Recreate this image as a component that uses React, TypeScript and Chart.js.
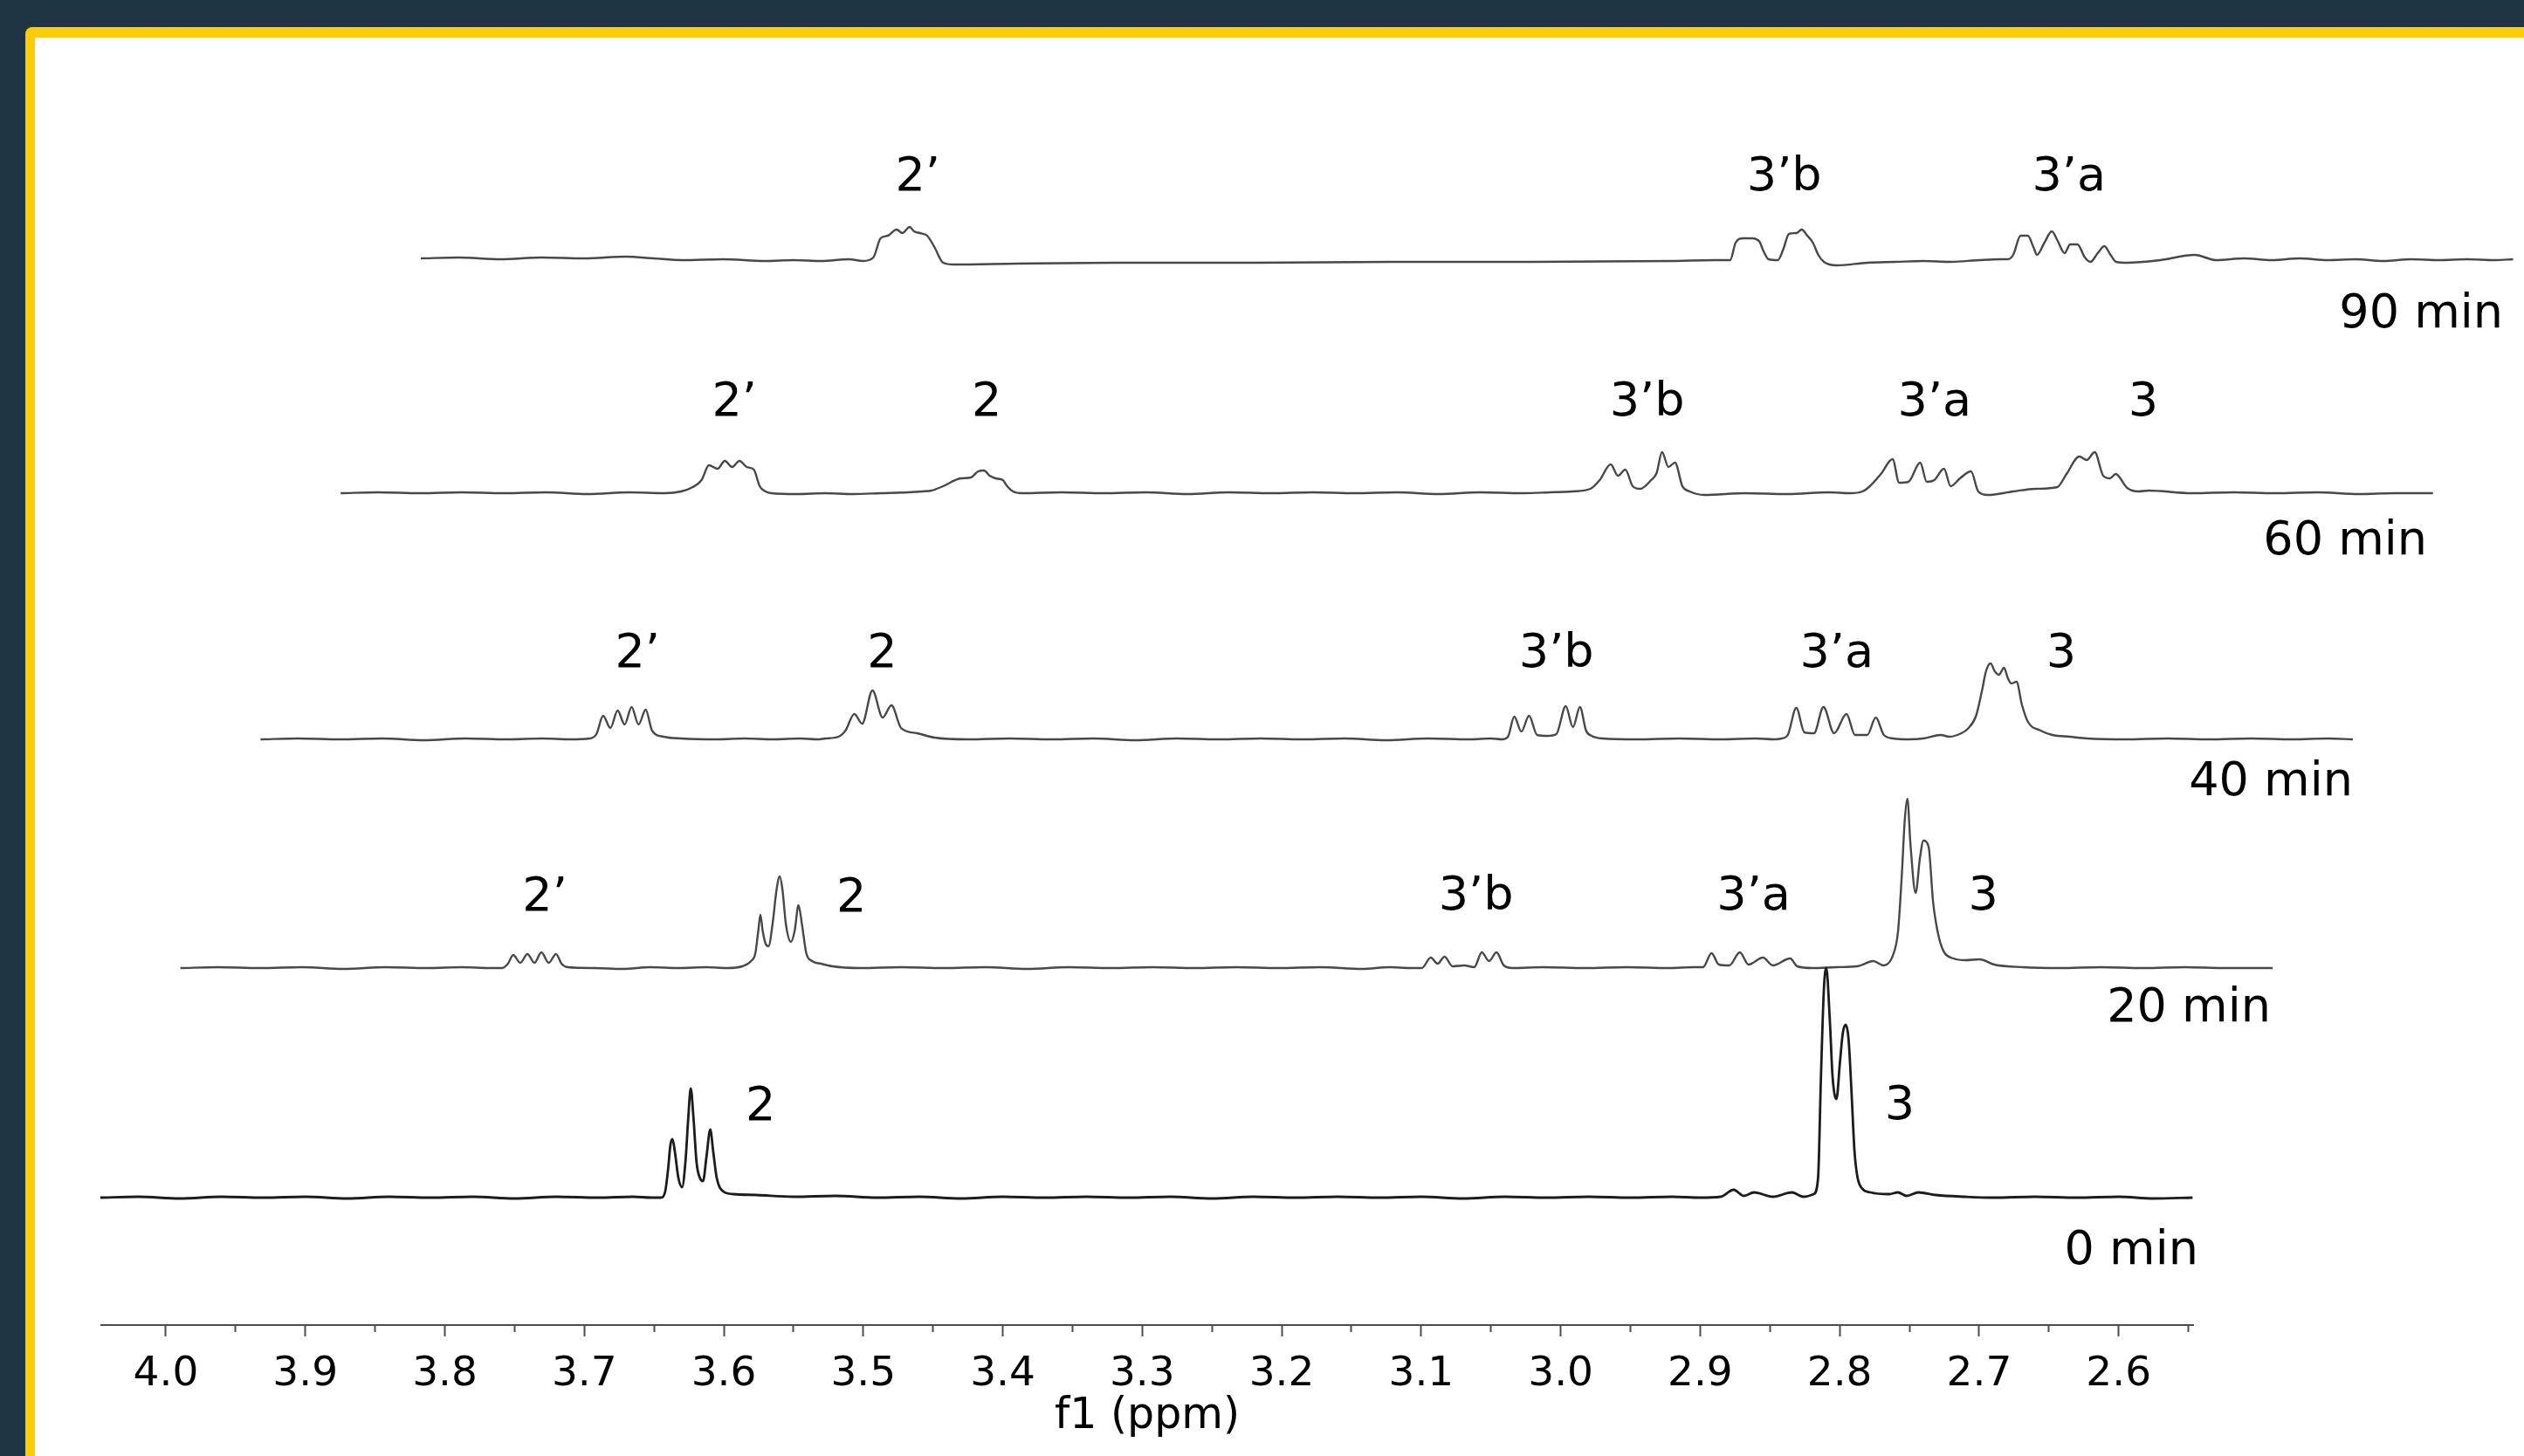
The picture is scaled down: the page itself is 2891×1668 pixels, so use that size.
import React, { useEffect, useRef } from 'react';
import { Chart, registerables } from 'chart.js';

Chart.register(...registerables);

// ---------------- data ----------------
const SPECTRUM_NAMES = ['0 min', '20 min', '40 min', '60 min', '90 min'];

// [chemical shift (ppm), intensity]
const TRACE_0MIN: [number, number][] = [
  [4.047, 0], [4.02, 1], [3.99, -1], [3.96, 1], [3.93, 0], [3.9, 1], [3.87, -1], [3.84, 1], [3.81, 0], [3.78, 1], [3.75, -1], [3.72, 1], [3.69, 0], [3.665, 1], [3.652, 0],
  [3.6451, 0], [3.642, 7], [3.6399, 33], [3.6383, 60], [3.6368, 67], [3.6351, 53], [3.6326, 23], [3.6299, 12], [3.6274, 43], [3.6254, 93], [3.6237, 125], [3.6218, 93], [3.6195, 40], [3.617, 22], [3.6149, 19], [3.6124, 47], [3.6097, 78], [3.6076, 53], [3.6051, 23], [3.6003, 7], [3.593, 4], [3.5763, 3],
  [3.55, 1], [3.52, 2], [3.49, 0], [3.46, 1], [3.43, -1], [3.4, 1], [3.37, 0], [3.34, 1], [3.31, 0], [3.28, 1], [3.25, -1], [3.22, 1], [3.19, 0], [3.16, 1], [3.13, 0], [3.1, 1], [3.07, -1], [3.04, 1], [3.01, 0], [2.98, 1], [2.95, 0], [2.92, 1], [2.9, 0],
  [2.8854, 1], [2.876, 9], [2.8687, 2], [2.8614, 6], [2.8478, 1], [2.8343, 6], [2.826, 1], [2.8186, 4], [2.8155, 22], [2.8134, 139], [2.8113, 239], [2.8096, 263], [2.8071, 205], [2.8051, 139], [2.8023, 113], [2.7998, 155], [2.7977, 189], [2.7957, 198], [2.7936, 181], [2.7915, 121], [2.7894, 54], [2.7873, 24], [2.7842, 11], [2.7779, 6], [2.7645, 4], [2.7583, 6], [2.752, 2], [2.7435, 6], [2.731, 3], [2.7101, 1],
  [2.69, 0], [2.66, 1], [2.63, 0], [2.6, 1], [2.575, -1], [2.547, 0],
];

const TRACE_20MIN: [number, number][] = [
  [4.047, 0], [4.02, 1], [3.99, 0], [3.96, 1], [3.93, -1], [3.9, 1], [3.87, 0], [3.845, 1], [3.825, 0],
  [3.8164, 0], [3.8122, 5], [3.8084, 15], [3.8034, 6], [3.7982, 16], [3.7932, 6], [3.7882, 18], [3.783, 6], [3.7777, 16], [3.7738, 5], [3.7694, 1],
  [3.75, 0], [3.73, -1], [3.71, 1], [3.69, 0], [3.67, 1], [3.655, 0],
  [3.6442, 2], [3.6379, 8], [3.6348, 17], [3.6327, 43], [3.6312, 61], [3.6296, 43], [3.6275, 28], [3.6254, 25], [3.6223, 53], [3.6196, 90], [3.6174, 105], [3.6154, 90], [3.6129, 50], [3.6093, 30], [3.6066, 43], [3.6039, 72], [3.6014, 50], [3.5983, 17], [3.5941, 8], [3.5878, 5], [3.5795, 2],
  [3.56, 0], [3.53, 1], [3.5, 0], [3.47, 1], [3.44, -1], [3.41, 1], [3.38, 0], [3.35, 1], [3.32, 0], [3.29, 1], [3.26, 0], [3.23, 1], [3.2, -1], [3.18, 1], [3.165, 0],
  [3.157, 0], [3.1506, 12], [3.1457, 5], [3.1407, 13], [3.135, 2], [3.1266, 3], [3.1194, 1], [3.114, 18], [3.1088, 8], [3.1035, 18], [3.0982, 3], [3.0919, 0],
  [3.07, 1], [3.04, 0], [3.01, 1], [2.98, 0], [2.962, 1],
  [2.9554, 1], [2.9493, 17], [2.9441, 4], [2.9366, 3], [2.929, 18], [2.9228, 4], [2.9125, 12], [2.9053, 3], [2.893, 11], [2.8878, 2], [2.8771, 0],
  [2.86, 1], [2.845, 2], [2.8333, 8], [2.826, 3],
  [2.8187, 17], [2.8156, 42], [2.8128, 109], [2.8108, 169], [2.8089, 194], [2.8067, 142], [2.803, 86], [2.7999, 126], [2.7974, 146], [2.7937, 139], [2.7905, 76], [2.7884, 52], [2.7853, 29], [2.7821, 17], [2.7759, 11], [2.7675, 9], [2.7571, 10], [2.7467, 4], [2.7258, 1],
  [2.7, 0], [2.67, 1], [2.64, 0], [2.61, 1], [2.58, 0], [2.547, 0],
];

const TRACE_40MIN: [number, number][] = [
  [4.047, 0], [4.02, 1], [3.99, 0], [3.96, 1], [3.93, -1], [3.9, 1], [3.87, 0], [3.845, 1], [3.825, 0],
  [3.8112, 1], [3.8062, 6], [3.8014, 27], [3.7962, 13], [3.791, 33], [3.786, 17], [3.781, 37], [3.776, 17], [3.7709, 34], [3.7663, 10], [3.758, 3], [3.7455, 1],
  [3.72, 0], [3.7, 1], [3.68, 0], [3.66, 1], [3.648, 0],
  [3.6421, 1], [3.6327, 3], [3.6277, 10], [3.6213, 29], [3.6157, 18], [3.6083, 56], [3.601, 25], [3.5947, 39], [3.5878, 13], [3.5764, 7], [3.5639, 2],
  [3.54, 0], [3.51, 1], [3.48, 0], [3.45, 1], [3.42, -1], [3.39, 1], [3.36, 0], [3.33, 1], [3.3, 0], [3.27, 1], [3.24, -1], [3.21, 1], [3.18, 0], [3.165, 1],
  [3.1569, 0], [3.1527, 3], [3.1482, 26], [3.1431, 9], [3.1376, 27], [3.1318, 5], [3.1243, 4], [3.118, 6], [3.1113, 38], [3.1061, 14], [3.1011, 37], [3.0967, 10], [3.0927, 4], [3.0848, 1],
  [3.06, 0], [3.03, 1], [3.0, 0], [2.975, 1], [2.962, 0],
  [2.9565, 1], [2.9521, 5], [2.946, 36], [2.9402, 8], [2.9333, 7], [2.9265, 37], [2.9189, 7], [2.91, 29], [2.9039, 5], [2.8951, 5], [2.889, 25], [2.8832, 5], [2.8763, 1],
  [2.865, 0], [2.855, 1],
  [2.8425, 5], [2.8362, 3], [2.8277, 7], [2.8231, 12], [2.8171, 27], [2.8127, 57], [2.81, 78], [2.8067, 87], [2.8037, 78], [2.8007, 74], [2.7971, 82], [2.7943, 70], [2.7918, 64], [2.7881, 66], [2.7843, 40], [2.7799, 20], [2.7708, 10], [2.7624, 5], [2.7498, 3], [2.7373, 1],
  [2.71, 0], [2.68, 1], [2.65, 0], [2.62, 1], [2.59, 0], [2.565, 1], [2.547, 0],
];

const TRACE_60MIN: [number, number][] = [
  [4.047, 0], [4.02, 1], [3.99, 0], [3.96, 1], [3.93, 0], [3.9, 1], [3.87, -1], [3.84, 1], [3.815, 0],
  [3.8029, 2], [3.7946, 7], [3.7883, 15], [3.783, 32], [3.7768, 28], [3.7716, 37], [3.7664, 30], [3.7611, 37], [3.7559, 30], [3.7508, 27], [3.7466, 8], [3.7424, 2], [3.7382, 0],
  [3.72, -1], [3.7, 0], [3.68, -1], [3.66, 0], [3.64, 1], [3.63, 2],
  [3.6234, 3], [3.6151, 8], [3.6025, 17], [3.5952, 18], [3.59, 25], [3.5858, 26], [3.5817, 20], [3.5775, 17], [3.5723, 15], [3.5692, 8], [3.565, 2], [3.5587, 0],
  [3.53, 1], [3.5, 0], [3.47, 1], [3.44, -1], [3.41, 1], [3.38, 0], [3.35, 1], [3.32, 0], [3.29, 1], [3.26, -1], [3.23, 1], [3.2, 0], [3.18, 1],
  [3.1642, 2], [3.1511, 5], [3.1444, 15], [3.1365, 33], [3.1313, 20], [3.126, 27], [3.1207, 8], [3.1154, 5], [3.1075, 15], [3.1036, 23], [3.0997, 47], [3.0951, 30], [3.0904, 35], [3.0851, 8], [3.0799, 2], [3.0693, -2],
  [3.04, 0], [3.01, -1], [2.98, 1], [2.965, 0],
  [2.956, 2], [2.9507, 8], [2.9428, 22], [2.9344, 39], [2.9297, 12], [2.9231, 13], [2.9146, 35], [2.9099, 13], [2.9046, 15], [2.8975, 28], [2.8928, 8], [2.8861, 17], [2.8782, 25], [2.873, 2], [2.8664, -2], [2.8479, 2], [2.8321, 5], [2.8163, 7],
  [2.8097, 22], [2.8005, 42], [2.7952, 38], [2.7895, 47], [2.7834, 20], [2.7785, 17], [2.7745, 22], [2.7662, 6], [2.7583, 2], [2.7509, 3],
  [2.72, 0], [2.69, 1], [2.66, 0], [2.63, 1], [2.6, -1], [2.575, 0], [2.547, 0],
];

const TRACE_90MIN: [number, number][] = [
  [4.047, 2], [4.02, 3], [3.99, 1], [3.96, 3], [3.93, 2], [3.9, 4], [3.88, 2], [3.86, 0], [3.83, 1], [3.8, -1], [3.78, 0], [3.76, -1], [3.74, 1], [3.73, -1],
  [3.7226, 3], [3.7174, 25], [3.7122, 28], [3.7059, 35], [3.7018, 31], [3.6965, 38], [3.6934, 33], [3.6892, 31], [3.684, 28], [3.6788, 15], [3.6725, -3], [3.665, -5],
  [3.62, -4], [3.55, -3], [3.45, -3], [3.35, -2], [3.25, -2], [3.15, -1], [3.12, 0],
  [3.1083, 0], [3.1044, 20], [3.0991, 25], [3.0926, 25], [3.0872, 21], [3.0846, 11], [3.0807, 1], [3.0741, 0], [3.0701, 13], [3.0662, 30], [3.0609, 31], [3.057, 35], [3.053, 28], [3.049, 20], [3.0451, 6], [3.0411, -2], [3.0319, -6],
  [3.01, -3], [2.99, -2], [2.97, -1], [2.95, -2], [2.93, 0], [2.915, 1],
  [2.9093, 1], [2.9054, 6], [2.9001, 28], [2.8949, 28], [2.8909, 15], [2.8883, 6], [2.883, 20], [2.8777, 33], [2.8738, 23], [2.8685, 8], [2.8646, 18], [2.8593, 18], [2.854, 3], [2.85, -2], [2.8448, 8], [2.84, 16], [2.8356, 6], [2.8316, -2], [2.8237, -3],
  [2.8, 0], [2.7752, 6], [2.76, 0], [2.74, 2], [2.72, 0], [2.7, 2], [2.68, 0], [2.66, 1], [2.64, -1], [2.62, 1], [2.6, 0], [2.58, 1], [2.56, 0], [2.547, 1],
];

// peak assignments: [label, ppm]
const PEAKS_0MIN: [string, number][] = [['2', 3.5736], ['3', 2.757]];
const PEAKS_20MIN: [string, number][] = [['2’', 3.7857], ['2', 3.5659], ['3’b', 3.1182], ['3’a', 2.9191], ['3', 2.7544]];
const PEAKS_40MIN: [string, number][] = [['2’', 3.7768], ['2', 3.6014], ['3’b', 3.118], ['3’a', 2.917], ['3', 2.7561]];
const PEAKS_60MIN: [string, number][] = [['2’', 3.7647], ['2', 3.5838], ['3’b', 3.1104], ['3’a', 2.9043], ['3', 2.7546]];
const PEAKS_90MIN: [string, number][] = [['2’', 3.6907], ['3’b', 3.0695], ['3’a', 2.8654]];

const MAJOR_TICKS = [4.0, 3.9, 3.8, 3.7, 3.6, 3.5, 3.4, 3.3, 3.2, 3.1, 3.0, 2.9, 2.8, 2.7, 2.6];
const MAJOR_TICK_LABELS = ['4.0', '3.9', '3.8', '3.7', '3.6', '3.5', '3.4', '3.3', '3.2', '3.1', '3.0', '2.9', '2.8', '2.7', '2.6'];
const MINOR_TICKS = [3.95, 3.85, 3.75, 3.65, 3.55, 3.45, 3.35, 3.25, 3.15, 3.05, 2.95, 2.85, 2.75, 2.65, 2.55];
const AXIS_TITLE = 'f1 (ppm)';

// ---------------- layout / style ----------------
const W = 2891;
const H = 1668;
const AXIS_PPM_LEFT = 4.0463;
const AXIS_PPM_RIGHT = 2.5466;
const PLOT_LEFT = 116;
const PLOT_RIGHT = 2512;
const X_AXIS_HEIGHT = 150;
const Y_SPAN = H - X_AXIS_HEIGHT; // 1 y-unit = 1 px
const STACK_SHIFT_PPM = 0.05745;
const BASELINES = [146, 409, 671, 953, 1220];
const PEAK_LABEL_RISE = [[103, 104], [80, 79, 81, 81, 81], [97, 97, 97, 97, 97], [103, 103, 103, 103, 103], [94, 94, 94]];
const NAME_LABEL_DROP = [62, 47, 50, 56, 63];
const NAME_LABEL_PPM = [2.5429, 2.5484, 2.547, 2.5512, 2.5542];
const LINE_COLORS = ['#1c1c1c', '#484848', '#484848', '#484848', '#484848'];
const LINE_WIDTHS = [2.8, 2.4, 2.4, 2.4, 2.4];
const NAVY = '#203544';
const YELLOW = '#ffcc00';
const AXIS_COLOR = '#4d4d4d';
const FONT_AXIS = '"DejaVu Sans", Verdana, sans-serif';
const FONT_LABEL = '"DejaVu Sans", sans-serif';
const LABEL_SIZE = 54;

const TRACES = [TRACE_0MIN, TRACE_20MIN, TRACE_40MIN, TRACE_60MIN, TRACE_90MIN];
const PEAKS = [PEAKS_0MIN, PEAKS_20MIN, PEAKS_40MIN, PEAKS_60MIN, PEAKS_90MIN];
const ALL_TICKS = [...MAJOR_TICKS, ...MINOR_TICKS].sort((a, b) => b - a);
const MAJOR_LABEL = new Map(MAJOR_TICKS.map((v, i) => [v, MAJOR_TICK_LABELS[i]]));

const framePlugin = {
  id: 'frame',
  beforeDraw(chart: any) {
    const ctx = chart.ctx;
    ctx.save();
    ctx.fillStyle = NAVY;
    ctx.fillRect(0, 0, W, H);
    ctx.fillStyle = YELLOW;
    ctx.beginPath();
    if (ctx.roundRect) ctx.roundRect(29, 31, W + 50, H + 50, 8);
    else ctx.rect(29, 31, W + 50, H + 50);
    ctx.fill();
    ctx.fillStyle = '#ffffff';
    ctx.fillRect(40, 43, W, H);
    ctx.restore();
  },
};

const labelPlugin = {
  id: 'stackLabels',
  afterDatasetsDraw(chart: any) {
    const { ctx } = chart;
    const xs = chart.scales.x;
    const ys = chart.scales.y;
    ctx.save();
    ctx.font = `${LABEL_SIZE}px ${FONT_LABEL}`;
    ctx.fillStyle = '#000000';
    ctx.textBaseline = 'middle';
    PEAKS.forEach((peaks, k) => {
      ctx.textAlign = 'center';
      peaks.forEach(([text, ppm], j) => {
        const px = xs.getPixelForValue(ppm - k * STACK_SHIFT_PPM);
        const py = ys.getPixelForValue(BASELINES[k] + PEAK_LABEL_RISE[k][j]);
        ctx.fillText(text, px, py);
      });
      ctx.textAlign = 'right';
      const nx = xs.getPixelForValue(NAME_LABEL_PPM[k] - k * STACK_SHIFT_PPM);
      const ny = ys.getPixelForValue(BASELINES[k] - NAME_LABEL_DROP[k]);
      ctx.fillText(SPECTRUM_NAMES[k], nx, ny);
    });
    ctx.restore();
  },
};

export default function App() {
  const ref = useRef<HTMLCanvasElement>(null);

  useEffect(() => {
    const canvas = ref.current;
    if (!canvas) return;
    const datasets = TRACES.map((trace, k) => ({
      label: SPECTRUM_NAMES[k],
      data: trace.map(([ppm, v]) => ({ x: ppm - k * STACK_SHIFT_PPM, y: BASELINES[k] + v })),
      borderColor: LINE_COLORS[k],
      borderWidth: LINE_WIDTHS[k],
      pointRadius: 0,
      fill: false,
      cubicInterpolationMode: 'monotone' as const,
      capBezierPoints: false,
      borderJoinStyle: 'round' as const,
      clip: false as const,
    }));

    const chart = new Chart(canvas, {
      type: 'line',
      data: { datasets },
      options: {
        responsive: false,
        animation: false,
        devicePixelRatio: 1,
        events: [],
        layout: { padding: { left: PLOT_LEFT, right: W - PLOT_RIGHT, top: 0, bottom: 0 } },
        plugins: { legend: { display: false }, tooltip: { enabled: false }, title: { display: false } },
        scales: {
          x: {
            type: 'linear',
            reverse: true,
            min: AXIS_PPM_RIGHT,
            max: AXIS_PPM_LEFT,
            afterBuildTicks: (axis: any) => {
              axis.ticks = ALL_TICKS.map((v) => ({ value: v }));
            },
            afterFit: (axis: any) => {
              axis.height = X_AXIS_HEIGHT;
            },
            ticks: {
              autoSkip: false,
              maxRotation: 0,
              minRotation: 0,
              padding: 16,
              color: '#000000',
              font: { family: FONT_AXIS, size: 47 },
              callback: (value: any) => MAJOR_LABEL.get(value) ?? '',
            },
            grid: {
              display: true,
              drawOnChartArea: false,
              drawTicks: true,
              tickLength: 13,
              tickWidth: 2,
              tickColor: AXIS_COLOR,
              tickBorderDash: (c: any) => (c.tick && MAJOR_LABEL.has(c.tick.value) ? [] : [7, 40]),
            },
            border: { display: true, color: AXIS_COLOR, width: 2 },
            title: {
              display: true,
              text: AXIS_TITLE,
              color: '#000000',
              font: { family: FONT_AXIS, size: 49 },
              padding: { top: 0, bottom: 15 },
            },
          },
          y: { type: 'linear', display: false, min: 0, max: Y_SPAN },
        },
      },
      plugins: [framePlugin, labelPlugin],
    } as any);

    return () => chart.destroy();
  }, []);

  return (
    <div style={{ position: 'fixed', left: 0, top: 0, width: W, height: H }}>
      <canvas ref={ref} width={W} height={H} style={{ display: 'block', width: W, height: H }} />
    </div>
  );
}
